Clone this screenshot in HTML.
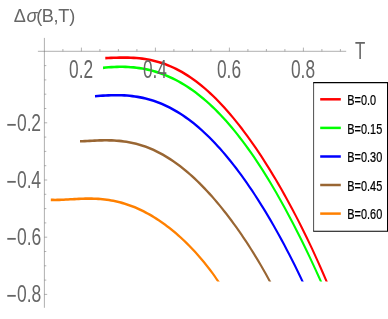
<!DOCTYPE html>
<html><head><meta charset="utf-8"><title>plot</title>
<style>html,body{margin:0;padding:0;background:#fff}svg{display:block;will-change:transform}text{font-family:"Liberation Sans",sans-serif}</style>
</head><body>
<svg width="388" height="319" viewBox="0 0 388 319">
<rect width="388" height="319" fill="#fff"/>
<clipPath id="pr"><rect x="40" y="0" width="300" height="281.6"/></clipPath>
<g clip-path="url(#pr)"><g transform="scale(1,1.3333)" fill="none" stroke-width="1.95" stroke-linecap="butt" stroke-linejoin="round">
<path d="M50.80,149.904 L52.96,149.943 L55.11,149.952 L57.27,149.933 L59.42,149.893 L61.58,149.835 L63.73,149.763 L65.89,149.680 L68.05,149.591 L70.20,149.498 L72.36,149.404 L74.51,149.313 L76.67,149.228 L78.82,149.151 L80.98,149.084 L83.14,149.030 L85.29,148.992 L87.45,148.970 L89.60,148.968 L91.76,148.986 L93.91,149.027 L96.07,149.092 L98.23,149.183 L100.38,149.300 L102.54,149.446 L104.69,149.620 L106.85,149.825 L109.00,150.060 L111.16,150.328 L113.32,150.627 L115.47,150.960 L117.63,151.327 L119.78,151.728 L121.94,152.164 L124.09,152.635 L126.25,153.141 L128.41,153.683 L130.56,154.261 L132.72,154.875 L134.87,155.526 L137.03,156.212 L139.18,156.936 L141.34,157.696 L143.49,158.492 L145.65,159.326 L147.81,160.196 L149.96,161.104 L152.12,162.048 L154.27,163.029 L156.43,164.047 L158.58,165.103 L160.74,166.196 L162.90,167.327 L165.05,168.495 L167.21,169.701 L169.36,170.946 L171.52,172.229 L173.67,173.551 L175.83,174.913 L177.99,176.314 L180.14,177.756 L182.30,179.239 L184.45,180.764 L186.61,182.332 L188.76,183.943 L190.92,185.599 L193.08,187.300 L195.23,189.049 L197.39,190.845 L199.54,192.691 L201.70,194.588 L203.85,196.538 L206.01,198.543 L208.17,200.604 L210.32,202.724 L212.48,204.904 L214.63,207.147 L216.79,209.456 L218.94,211.833 L221.10,214.281" stroke="#ff8000"/>
<path d="M80.00,105.988 L82.44,105.912 L84.88,105.824 L87.33,105.730 L89.77,105.635 L92.21,105.541 L94.65,105.454 L97.09,105.377 L99.53,105.314 L101.98,105.267 L104.42,105.241 L106.86,105.238 L109.30,105.261 L111.74,105.313 L114.18,105.395 L116.63,105.511 L119.07,105.663 L121.51,105.852 L123.95,106.081 L126.39,106.351 L128.84,106.663 L131.28,107.020 L133.72,107.422 L136.16,107.871 L138.60,108.367 L141.04,108.912 L143.49,109.507 L145.93,110.151 L148.37,110.847 L150.81,111.594 L153.25,112.393 L155.69,113.244 L158.14,114.147 L160.58,115.103 L163.02,116.113 L165.46,117.175 L167.90,118.290 L170.35,119.458 L172.79,120.679 L175.23,121.953 L177.67,123.280 L180.11,124.659 L182.55,126.090 L185.00,127.574 L187.44,129.109 L189.88,130.696 L192.32,132.334 L194.76,134.023 L197.21,135.763 L199.65,137.554 L202.09,139.395 L204.53,141.286 L206.97,143.226 L209.41,145.217 L211.86,147.257 L214.30,149.347 L216.74,151.486 L219.18,153.674 L221.62,155.912 L224.06,158.200 L226.51,160.537 L228.95,162.924 L231.39,165.362 L233.83,167.850 L236.27,170.390 L238.72,172.982 L241.16,175.625 L243.60,178.323 L246.04,181.074 L248.48,183.880 L250.92,186.743 L253.37,189.662 L255.81,192.641 L258.25,195.680 L260.69,198.781 L263.13,201.945 L265.57,205.175 L268.02,208.472 L270.46,211.839 L272.90,215.278" stroke="#996633"/>
<path d="M95.00,72.155 L97.66,72.001 L100.33,71.857 L102.99,71.726 L105.65,71.612 L108.32,71.518 L110.98,71.448 L113.64,71.404 L116.31,71.390 L118.97,71.408 L121.63,71.462 L124.30,71.553 L126.96,71.683 L129.62,71.856 L132.29,72.074 L134.95,72.337 L137.61,72.649 L140.28,73.010 L142.94,73.422 L145.60,73.888 L148.27,74.408 L150.93,74.983 L153.59,75.615 L156.26,76.305 L158.92,77.054 L161.58,77.863 L164.25,78.731 L166.91,79.662 L169.57,80.653 L172.24,81.708 L174.90,82.825 L177.56,84.006 L180.23,85.250 L182.89,86.558 L185.55,87.930 L188.22,89.367 L190.88,90.868 L193.54,92.434 L196.21,94.064 L198.87,95.759 L201.53,97.519 L204.19,99.343 L206.86,101.232 L209.52,103.184 L212.18,105.201 L214.85,107.282 L217.51,109.427 L220.17,111.635 L222.84,113.907 L225.50,116.242 L228.16,118.640 L230.83,121.101 L233.49,123.625 L236.15,126.212 L238.82,128.860 L241.48,131.571 L244.14,134.344 L246.81,137.180 L249.47,140.077 L252.13,143.036 L254.80,146.058 L257.46,149.141 L260.12,152.287 L262.79,155.495 L265.45,158.766 L268.11,162.100 L270.78,165.497 L273.44,168.958 L276.10,172.483 L278.77,176.073 L281.43,179.727 L284.09,183.449 L286.76,187.236 L289.42,191.092 L292.08,195.016 L294.75,199.010 L297.41,203.074 L300.07,207.211 L302.74,211.421 L305.40,215.707" stroke="#0000ff"/>
<path d="M103.00,50.887 L105.79,50.674 L108.59,50.492 L111.38,50.343 L114.18,50.229 L116.97,50.152 L119.77,50.114 L122.56,50.116 L125.36,50.160 L128.15,50.249 L130.95,50.384 L133.74,50.566 L136.54,50.797 L139.33,51.079 L142.13,51.412 L144.92,51.799 L147.72,52.240 L150.51,52.737 L153.31,53.291 L156.10,53.904 L158.90,54.576 L161.69,55.308 L164.49,56.102 L167.28,56.958 L170.08,57.878 L172.87,58.862 L175.67,59.911 L178.46,61.026 L181.26,62.208 L184.05,63.457 L186.85,64.774 L189.64,66.160 L192.44,67.615 L195.23,69.139 L198.03,70.734 L200.82,72.399 L203.62,74.135 L206.41,75.942 L209.21,77.821 L212.00,79.772 L214.80,81.796 L217.59,83.891 L220.39,86.059 L223.18,88.300 L225.98,90.613 L228.77,93.000 L231.57,95.459 L234.36,97.991 L237.16,100.596 L239.95,103.274 L242.75,106.024 L245.54,108.847 L248.34,111.742 L251.13,114.709 L253.93,117.748 L256.72,120.859 L259.52,124.041 L262.31,127.294 L265.11,130.618 L267.90,134.012 L270.70,137.477 L273.49,141.011 L276.29,144.614 L279.08,148.286 L281.88,152.026 L284.67,155.834 L287.47,159.709 L290.26,163.650 L293.06,167.658 L295.85,171.732 L298.65,175.870 L301.44,180.073 L304.24,184.339 L307.03,188.668 L309.83,193.060 L312.62,197.513 L315.42,202.028 L318.21,206.603 L321.01,211.237 L323.80,215.930" stroke="#00ff00"/>
<path d="M105.30,43.603 L108.14,43.518 L110.98,43.433 L113.81,43.354 L116.65,43.286 L119.49,43.235 L122.33,43.206 L125.17,43.203 L128.00,43.232 L130.84,43.297 L133.68,43.401 L136.52,43.549 L139.36,43.744 L142.19,43.990 L145.03,44.288 L147.87,44.643 L150.71,45.057 L153.55,45.532 L156.38,46.071 L159.22,46.674 L162.06,47.346 L164.90,48.085 L167.74,48.896 L170.57,49.777 L173.41,50.732 L176.25,51.760 L179.09,52.862 L181.93,54.040 L184.76,55.293 L187.60,56.623 L190.44,58.028 L193.28,59.511 L196.12,61.070 L198.95,62.705 L201.79,64.418 L204.63,66.206 L207.47,68.071 L210.31,70.012 L213.14,72.028 L215.98,74.119 L218.82,76.285 L221.66,78.524 L224.49,80.838 L227.33,83.224 L230.17,85.683 L233.01,88.214 L235.85,90.816 L238.68,93.489 L241.52,96.232 L244.36,99.045 L247.20,101.927 L250.04,104.878 L252.87,107.898 L255.71,110.985 L258.55,114.140 L261.39,117.363 L264.23,120.653 L267.06,124.010 L269.90,127.435 L272.74,130.927 L275.58,134.487 L278.42,138.115 L281.25,141.811 L284.09,145.577 L286.93,149.412 L289.77,153.318 L292.61,157.296 L295.44,161.346 L298.28,165.471 L301.12,169.671 L303.96,173.949 L306.80,178.306 L309.63,182.744 L312.47,187.266 L315.31,191.874 L318.15,196.570 L320.99,201.358 L323.82,206.241 L326.66,211.221 L329.50,216.304" stroke="#ff0000"/>
</g></g>
<g stroke="#666" stroke-width="0.52" fill="none">
<path d="M37.9,51.3 H346.2 M44.4,37.9 V307.8"/>
<path d="M62.90,51.3 v-2.3 M81.40,51.3 v-3.7 M99.90,51.3 v-2.3 M118.40,51.3 v-2.3 M136.90,51.3 v-2.3 M155.40,51.3 v-3.7 M173.90,51.3 v-2.3 M192.40,51.3 v-2.3 M210.90,51.3 v-2.3 M229.40,51.3 v-3.7 M247.90,51.3 v-2.3 M266.40,51.3 v-2.3 M284.90,51.3 v-2.3 M303.40,51.3 v-3.7 M321.90,51.3 v-2.3 M340.40,51.3 v-2.3 M44.4,65.60 h1.9 M44.4,79.90 h1.9 M44.4,94.20 h1.9 M44.4,108.50 h1.9 M44.4,122.80 h2.8 M44.4,137.10 h1.9 M44.4,151.40 h1.9 M44.4,165.70 h1.9 M44.4,180.00 h2.8 M44.4,194.30 h1.9 M44.4,208.60 h1.9 M44.4,222.90 h1.9 M44.4,237.20 h2.8 M44.4,251.50 h1.9 M44.4,265.80 h1.9 M44.4,280.10 h1.9 M44.4,294.40 h2.8 " stroke-width="0.5"/>
</g>
<text transform="translate(69.06,77.65) scale(0.6789,1)" font-size="25.49" fill="#666666">0.2</text>
<text transform="translate(142.88,77.65) scale(0.6789,1)" font-size="25.49" fill="#666666">0.4</text>
<text transform="translate(216.97,77.65) scale(0.6789,1)" font-size="25.49" fill="#666666">0.6</text>
<text transform="translate(290.97,77.65) scale(0.6789,1)" font-size="25.49" fill="#666666">0.8</text>
<text transform="translate(0,130.75) scale(0.7100,1)" x="9.27 24.01 37.74 43.86" y="1.90 0.00 0.00 0.00" font-size="24.65" fill="#666666">−0.2</text>
<text transform="translate(0,187.95) scale(0.7100,1)" x="9.27 24.01 37.74 43.93" y="1.90 0.00 0.00 0.00" font-size="24.65" fill="#666666">−0.4</text>
<text transform="translate(0,244.95) scale(0.7100,1)" x="9.27 24.01 37.74 44.23" y="1.90 0.00 0.00 0.00" font-size="24.65" fill="#666666">−0.6</text>
<text transform="translate(0,301.95) scale(0.7100,1)" x="9.27 24.01 37.74 44.23" y="1.90 0.00 0.00 0.00" font-size="24.65" fill="#666666">−0.8</text>
<text transform="translate(0,22.00) scale(0.9500,1)" x="14.39 27.81 38.17 43.89 56.28 61.34 72.85" font-size="19.10" fill="#666666">Δ<tspan font-style="italic">σ</tspan>(B,T)</text>
<text transform="translate(354.96,58.50) scale(0.7043,1)" font-size="23.91" fill="#666666">T</text>
<rect x="313.6" y="82.6" width="73.9" height="148.6" fill="#fff"/>
<path d="M313.25,82.6 H388 M313.25,231.2 H388" stroke="#000" stroke-width="1.1" fill="none"/>
<path d="M313.6,82.6 V231.2" stroke="#000" stroke-width="0.7" fill="none"/>
<path d="M387.5,82.6 V231.2" stroke="#000" stroke-width="1" fill="none"/>
<path d="M320.2,99.3 H340.8" stroke="#ff0000" stroke-width="2.5" fill="none"/>
<text transform="translate(347.33,105.15) scale(0.7379,1)" font-size="14.79" fill="#000" stroke="#000" stroke-width="0.25">B=0.0</text>
<path d="M320.2,127.9 H340.8" stroke="#00ff00" stroke-width="2.5" fill="none"/>
<text transform="translate(347.33,133.75) scale(0.7379,1)" font-size="14.79" fill="#000" stroke="#000" stroke-width="0.25">B=0.15</text>
<path d="M320.2,156.5 H340.8" stroke="#0000ff" stroke-width="2.5" fill="none"/>
<text transform="translate(347.33,162.35) scale(0.7379,1)" font-size="14.79" fill="#000" stroke="#000" stroke-width="0.25">B=0.30</text>
<path d="M320.2,185.0 H340.8" stroke="#996633" stroke-width="2.5" fill="none"/>
<text transform="translate(347.33,190.85) scale(0.7379,1)" font-size="14.79" fill="#000" stroke="#000" stroke-width="0.25">B=0.45</text>
<path d="M320.2,213.6 H340.8" stroke="#ff8000" stroke-width="2.5" fill="none"/>
<text transform="translate(347.33,219.45) scale(0.7379,1)" font-size="14.79" fill="#000" stroke="#000" stroke-width="0.25">B=0.60</text>
</svg>
</body></html>
